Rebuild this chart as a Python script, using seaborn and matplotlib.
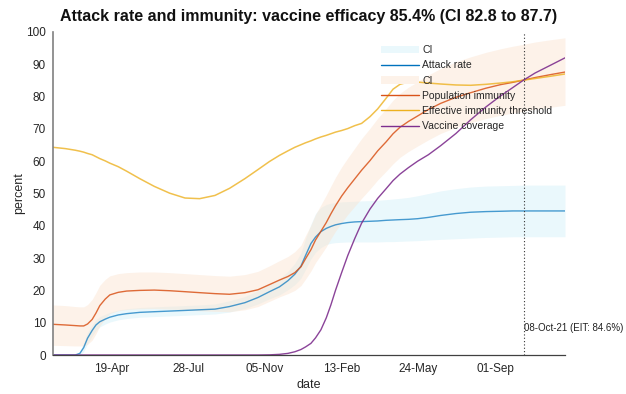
import matplotlib
matplotlib.use("Agg")
import matplotlib.pyplot as plt
import seaborn as sns
import pandas as pd
from matplotlib.lines import Line2D
from matplotlib.patches import Patch

dates = ["2020-02-03", "2020-02-19", "2020-03-03", "2020-03-09", "2020-03-14", "2020-03-19",
         "2020-03-25", "2020-03-30", "2020-04-04", "2020-04-11", "2020-04-17", "2020-04-28",
         "2020-05-09", "2020-05-26", "2020-06-14", "2020-07-04", "2020-07-24", "2020-08-12",
         "2020-09-01", "2020-09-20", "2020-10-10", "2020-10-27", "2020-11-11", "2020-11-24",
         "2020-12-05", "2020-12-14", "2020-12-22", "2020-12-28", "2021-01-04", "2021-01-10",
         "2021-01-17", "2021-01-24", "2021-01-30", "2021-02-05", "2021-02-13", "2021-02-21",
         "2021-03-02", "2021-03-11", "2021-03-22", "2021-04-01", "2021-04-12", "2021-04-21",
         "2021-04-30", "2021-05-11", "2021-05-23", "2021-06-06", "2021-06-22", "2021-07-12",
         "2021-07-31", "2021-08-20", "2021-09-08", "2021-09-24", "2021-10-08", "2021-10-23",
         "2021-11-12", "2021-12-01"]

attack_rate = [0, 0, 0, 0.5, 2.3, 5.2, 7.6, 9.3, 10.3, 11.1, 11.7, 12.4, 12.8, 13.2, 13.4,
               13.6, 13.8, 14.0, 14.2, 15.0, 16.2, 17.8, 19.6, 21.1, 23.0, 25.0, 27.5, 30.8,
               34.5, 36.5, 38.2, 39.2, 39.8, 40.3, 40.7, 41.0, 41.2, 41.3, 41.4, 41.5, 41.7,
               41.8, 41.9, 42.0, 42.2, 42.6, 43.2, 43.8, 44.2, 44.4, 44.5, 44.6, 44.6, 44.6,
               44.6, 44.6]
attack_lo = [0, 0, 0, 0, 1.0, 3.5, 5.9, 7.6, 8.7, 9.6, 10.2, 10.9, 11.3, 11.7, 11.9, 12.1,
             12.3, 12.5, 12.7, 13.3, 14.4, 15.8, 17.4, 18.6, 20.2, 21.8, 23.8, 26.5, 29.8,
             31.8, 33.3, 34.2, 34.6, 34.8, 34.9, 35.0, 35.0, 35.0, 35.0, 35.0, 35.1, 35.1,
             35.2, 35.3, 35.4, 35.6, 35.8, 36.0, 36.2, 36.4, 36.5, 36.6, 36.6, 36.6, 36.6,
             36.6]
attack_hi = [0, 0, 0, 1.2, 3.8, 7.0, 9.3, 11.0, 11.9, 12.6, 13.2, 13.9, 14.3, 14.7, 14.9,
             15.1, 15.3, 15.5, 15.8, 16.8, 18.1, 19.9, 21.9, 23.6, 25.9, 28.4, 31.6, 36.0,
             40.5, 43.8, 45.7, 46.6, 47.0, 47.2, 47.4, 47.5, 47.6, 47.7, 47.8, 47.9, 48.1,
             48.3, 48.5, 48.8, 49.3, 50.0, 50.8, 51.5, 52.0, 52.3, 52.4, 52.5, 52.6, 52.6,
             52.6, 52.6]

pop_immunity = [9.5, 9.3, 9.1, 9.0, 9.0, 9.6, 11.0, 13.0, 15.3, 17.3, 18.6, 19.4, 19.8, 20.0,
                20.1, 19.9, 19.6, 19.3, 19.0, 18.8, 19.3, 20.2, 21.8, 23.2, 24.3, 25.5, 27.3,
                29.8, 32.6, 35.6, 38.3, 41.0, 43.7, 46.2, 49.2, 51.8, 54.5, 57.2, 60.2, 63.2,
                66.0, 68.5, 70.5, 72.3, 74.0, 76.0, 77.9, 79.8, 81.2, 82.6, 83.7, 84.4, 85.1,
                85.9, 86.8, 87.6]
pop_lo = [3.0, 2.9, 2.8, 2.8, 2.8, 3.3, 4.6, 6.6, 9.0, 11.3, 12.8, 13.7, 14.1, 14.3, 14.4,
          14.2, 14.0, 13.7, 13.5, 13.4, 14.0, 15.0, 16.6, 18.0, 19.0, 20.0, 21.5, 23.5, 26.0,
          28.6, 31.0, 33.5, 36.0, 38.3, 41.0, 43.5, 46.0, 48.5, 51.4, 54.2, 56.9, 59.2, 61.2,
          63.0, 64.7, 66.6, 68.6, 70.5, 71.9, 73.2, 74.2, 74.9, 75.5, 76.1, 76.7, 77.3]
pop_hi = [15.5, 15.3, 15.0, 14.9, 14.9, 15.6, 17.2, 19.3, 21.6, 23.4, 24.5, 25.2, 25.5, 25.7,
          25.7, 25.5, 25.2, 24.9, 24.6, 24.4, 24.9, 25.9, 27.6, 29.2, 30.5, 32.0, 34.0, 37.0,
          40.2, 43.5, 46.5, 49.5, 52.3, 55.0, 58.2, 61.0, 64.0, 67.0, 70.2, 73.3, 76.3, 78.9,
          81.0, 82.9, 84.6, 86.7, 88.7, 90.8, 92.3, 93.7, 94.8, 95.6, 96.2, 96.9, 97.6, 98.2]

eit = [64.3, 63.9, 63.4, 63.1, 62.8, 62.4, 62.0, 61.4, 60.8, 60.1, 59.4, 58.3, 56.9, 54.6,
       52.2, 50.1, 48.6, 48.4, 49.4, 51.6, 54.6, 57.4, 59.9, 61.8, 63.2, 64.3, 65.1, 65.7,
       66.3, 66.9, 67.5, 68.0, 68.5, 69.0, 69.5, 70.1, 71.0, 71.7, 73.8, 76.2, 79.5, 82.3,
       83.8, 84.5, 84.5, 84.2, 83.9, 83.6, 83.5, 83.8, 84.2, 84.6, 85.1, 85.6, 86.3, 87.0]

vaccine = [0, 0, 0, 0, 0, 0, 0, 0, 0, 0, 0, 0, 0, 0, 0, 0, 0, 0, 0, 0, 0, 0, 0.05, 0.2, 0.5,
           1.0, 1.7, 2.5, 3.6, 5.3, 7.8, 11.5, 15.5, 20.0, 25.5, 30.8, 36.0, 40.8, 45.2, 48.5,
           51.5, 54.0, 56.0, 58.0, 60.0, 62.0, 64.8, 68.6, 72.8, 76.8, 80.2, 82.8, 85.1, 87.3,
           89.7, 92.0]

tick_dates = ["2020-04-19", "2020-07-28", "2020-11-05", "2021-02-13", "2021-05-24", "2021-09-01"]
tick_labels = ["19-Apr", "28-Jul", "05-Nov", "13-Feb", "24-May", "01-Sep"]
eit_date = "2021-10-08"
eit_label = "08-Oct-21 (EIT: 84.6%)"
title = "Attack rate and immunity: vaccine efficacy 85.4% (CI 82.8 to 87.7)"
legend_labels = ["CI", "Attack rate", "CI", "Population immunity",
                 "Effective immunity threshold", "Vaccine coverage"]

sns.set_theme(style="white")
plt.rcParams['font.family'] = ['Liberation Sans', 'DejaVu Sans']

df = pd.DataFrame({
    "date": pd.to_datetime(dates),
    "attack": attack_rate, "attack_lo": attack_lo, "attack_hi": attack_hi,
    "pop": pop_immunity, "pop_lo": pop_lo, "pop_hi": pop_hi,
    "eit": eit, "vac": vaccine,
})

c_blue = "#0072BD"
c_orange = "#D95319"
c_yellow = "#EDB120"
c_purple = "#7E2F8E"
c_blue_ci = "#eaf8fc"
c_orange_ci = "#fbe3cf"

fig = plt.figure(figsize=(6.26, 3.94), dpi=100)
ax = fig.add_axes([53/626, 39/394, 512/626, 323/394])

ax.fill_between(df["date"], df["attack_lo"], df["attack_hi"], color=c_blue_ci, lw=0)
ax.fill_between(df["date"], df["pop_lo"], df["pop_hi"], color=c_orange_ci, alpha=0.45, lw=0)

sns.lineplot(data=df, x="date", y="attack", color=c_blue, lw=1.0, alpha=0.7, ax=ax, estimator=None)
sns.lineplot(data=df, x="date", y="pop", color=c_orange, lw=1.0, alpha=0.85, ax=ax, estimator=None)
sns.lineplot(data=df, x="date", y="eit", color=c_yellow, lw=1.1, alpha=0.8, ax=ax, estimator=None)
sns.lineplot(data=df, x="date", y="vac", color=c_purple, lw=1.0, alpha=0.9, ax=ax, estimator=None)

ax.axvline(pd.to_datetime(eit_date), color="#333333", ls=(0, (1, 2)), lw=0.8)
ax.text(pd.to_datetime(eit_date), 8.3, eit_label, fontsize=7, ha="left", va="center",
        color="#222222", clip_on=False)

ax.set_xlim(df["date"].iloc[0], df["date"].iloc[-1])
ax.set_ylim(0, 100)
ax.set_yticks(range(0, 101, 10))
ax.set_xticks(pd.to_datetime(tick_dates))
ax.set_xticklabels(tick_labels)
ax.tick_params(direction="in", length=4, width=0.8, labelsize=8.5, colors="#262626", pad=5)
ax.tick_params(axis="x", pad=6)
for s in ["top", "right"]:
    ax.spines[s].set_visible(False)
ax.spines["left"].set_color("#808080")
ax.spines["left"].set_linewidth(1.2)
ax.spines["bottom"].set_color("#404040")
ax.spines["bottom"].set_linewidth(0.9)
ax.set_xlabel("date", fontsize=9, color="#262626", labelpad=3)
ax.set_ylabel("percent", fontsize=9, color="#262626", labelpad=1)
ax.set_title(title, fontsize=11.5, fontweight="bold", pad=8, color="#111111")

handles = [Patch(color=c_blue_ci, lw=0), Line2D([], [], color=c_blue, lw=1.0),
           Patch(color="#fdf2e9", lw=0), Line2D([], [], color=c_orange, lw=1.0),
           Line2D([], [], color=c_yellow, lw=1.0), Line2D([], [], color=c_purple, lw=1.0)]
ax.legend(handles, legend_labels, loc="upper left", bbox_to_anchor=(0.632, 0.972), frameon=False,
          fontsize=7.5, handlelength=3.7, handletextpad=0.3, labelspacing=0.5,
          borderaxespad=0)

fig.savefig("out.png", dpi=100)
